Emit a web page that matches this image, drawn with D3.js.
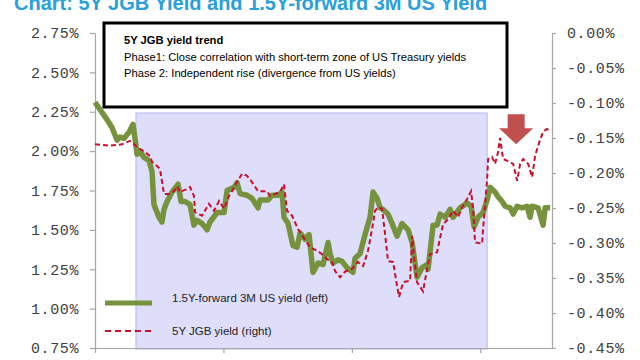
<!DOCTYPE html>
<html><head><meta charset="utf-8">
<script src="https://cdn.jsdelivr.net/npm/d3@7"></script>
<style>body{margin:0;background:#fff}svg{display:block}</style>
</head><body><svg id="c" width="640" height="360"></svg>
<script>
// ---- data (time index in months, values in %) ----
const usMonths = [0,1.12,1.59,2.06,2.34,2.71,3.18,3.55,3.74,3.93,4.21,4.58,5.05,5.33,5.51,5.98,6.26,6.45,6.73,7.2,7.76,8.04,8.41,8.88,9.25,9.53,10,10.47,10.75,11.4,12.06,12.34,12.99,13.27,13.55,14.21,14.67,15.23,15.42,16.17,16.54,17.1,17.48,17.66,18.04,18.5,18.88,19.16,19.63,20,20.37,20.84,21.31,21.78,21.96,22.24,22.71,23.08,23.55,24.11,24.3,24.77,25.23,25.7,25.98,26.36,26.64,26.92,27.38,27.76,28.22,28.69,29.25,29.63,30.09,30.56,31.03,31.12,31.59,31.96,32.24,32.71,33.18,33.46,34.11,34.77,35.14,35.42,35.79,36.26,36.64,36.92,37.38,37.66,38.04,38.32,38.79,39.07,39.44,39.91,40.37,40.65,40.84,41.4,41.87,42.06,42.52];
const usYield = [2.31,2.2,2.15,2.07,2.09,2.08,2.12,2.17,2.08,1.98,2.0,1.96,1.94,1.87,1.66,1.58,1.55,1.63,1.68,1.74,1.79,1.68,1.68,1.66,1.53,1.56,1.54,1.5,1.55,1.61,1.61,1.75,1.77,1.8,1.73,1.72,1.7,1.64,1.69,1.69,1.72,1.72,1.74,1.58,1.54,1.4,1.39,1.48,1.44,1.47,1.23,1.29,1.28,1.42,1.35,1.29,1.31,1.3,1.26,1.23,1.32,1.35,1.47,1.58,1.74,1.7,1.64,1.63,1.6,1.54,1.46,1.54,1.5,1.42,1.2,1.26,1.28,1.25,1.53,1.53,1.6,1.58,1.63,1.58,1.64,1.67,1.65,1.52,1.58,1.61,1.69,1.77,1.74,1.71,1.68,1.65,1.64,1.6,1.65,1.64,1.65,1.58,1.65,1.64,1.53,1.64,1.64];
const jgbMonths = [0,1.31,2.52,3.27,3.93,4.67,5.14,5.33,5.79,6.07,6.45,6.92,7.38,7.66,7.94,8.6,8.88,9.25,9.35,10,10.65,11.12,11.59,12.06,12.52,12.8,13.27,13.74,14.21,14.67,15.23,16.07,16.36,16.82,17.29,17.66,17.94,18.41,18.97,19.44,20.09,20.75,21.21,21.68,22.15,22.43,22.9,23.36,24.02,24.58,25.05,25.51,25.89,26.17,26.45,26.82,27.1,27.38,27.85,28.22,28.41,28.79,29.44,29.63,29.81,30.09,30.65,31.03,31.31,31.96,32.52,32.99,33.46,33.93,34.3,34.77,35.14,35.33,35.51,36.17,36.26,36.64,36.73,37.1,37.38,37.66,37.85,38.13,38.6,39.07,39.44,39.72,40,40.47,40.84,41.12,41.4,41.87,42.24,42.52];
const jgbYield = [-0.159,-0.161,-0.159,-0.154,-0.163,-0.17,-0.176,-0.184,-0.19,-0.194,-0.23,-0.23,-0.226,-0.219,-0.227,-0.223,-0.22,-0.233,-0.256,-0.261,-0.244,-0.254,-0.24,-0.251,-0.233,-0.226,-0.213,-0.201,-0.204,-0.213,-0.226,-0.226,-0.233,-0.23,-0.227,-0.216,-0.254,-0.261,-0.28,-0.291,-0.306,-0.311,-0.316,-0.323,-0.327,-0.34,-0.349,-0.341,-0.337,-0.327,-0.333,-0.311,-0.28,-0.254,-0.249,-0.251,-0.287,-0.326,-0.327,-0.361,-0.377,-0.356,-0.354,-0.29,-0.32,-0.356,-0.369,-0.337,-0.316,-0.313,-0.273,-0.266,-0.254,-0.263,-0.249,-0.237,-0.226,-0.251,-0.299,-0.301,-0.28,-0.209,-0.18,-0.177,-0.187,-0.17,-0.15,-0.18,-0.183,-0.187,-0.211,-0.187,-0.18,-0.187,-0.206,-0.176,-0.161,-0.141,-0.137,-0.14];
const leftTicks = [0.75,1.0,1.25,1.5,1.75,2.0,2.25,2.5,2.75];
const rightTicks = [0,-0.05,-0.1,-0.15,-0.2,-0.25,-0.3,-0.35,-0.4,-0.45];
const xTicks = [0,12,24,36];
const phase1 = [3.83, 36.64];       // shaded period (months)
const phase1Top = 2.242;            // top of shaded band (left axis %)
const arrowAt = {m: 39.35, top: -0.116, tip: -0.159}; // right axis %
const title = "Chart: 5Y JGB Yield and 1.5Y-forward 3M US Yield";
const boxLines = ["5Y JGB yield trend","Phase1: Close correlation with short-term zone of US Treasury yields","Phase 2: Independent rise (divergence from US yields)"];
const legendLabels = ["1.5Y-forward 3M US yield (left)","5Y JGB yield (right)"];

// ---- scales ----
const svg = d3.select("#c");
const x = d3.scaleLinear().domain([0,42.7]).range([95,552]);
const yL = d3.scaleLinear().domain([0.75,2.75]).range([348,33]);
const yR = d3.scaleLinear().domain([-0.45,0]).range([348,33]);
const green = "#76923c", red = "#c8102e", axisCol = "#a6a6a6";

// title (clipped at top, as in the source image)
svg.append("text").attr("x",14).attr("y",10).attr("font-family","Liberation Sans, Arial, sans-serif")
  .attr("font-weight","bold").attr("font-size",20).attr("fill","#29a0da").text(title);

// shaded phase band
svg.append("rect").attr("x",x(phase1[0])).attr("y",yL(phase1Top))
  .attr("width",x(phase1[1])-x(phase1[0])).attr("height",yL(0.75)-yL(phase1Top)+1)
  .attr("fill","#dedefa").attr("stroke","#b4b4f0").attr("stroke-width",1);

// axes
function styleAxis(g){
  g.selectAll(".domain").attr("stroke",axisCol).attr("stroke-width",1.2);
  g.selectAll(".tick line").attr("stroke",axisCol).attr("stroke-width",1.2);
  g.selectAll(".tick text").attr("fill","#404040").attr("font-family","Liberation Mono, DejaVu Sans Mono, monospace")
   .attr("font-size",15).attr("letter-spacing","0.6px");
}
svg.append("g").attr("transform","translate(95,0)")
  .call(d3.axisLeft(yL).tickValues(leftTicks).tickSize(5).tickSizeOuter(0).tickPadding(11).tickFormat(d=>d.toFixed(2)+"%"))
  .call(styleAxis);
svg.append("g").attr("transform","translate(552,0)")
  .call(d3.axisRight(yR).tickValues(rightTicks).tickSize(4).tickSizeOuter(0).tickPadding(11).tickFormat(d=>(d===0?"0.00":"-"+Math.abs(d).toFixed(2))+"%"))
  .call(styleAxis);
svg.append("g").attr("transform","translate(0,"+yL(0.75)+")")
  .call(d3.axisBottom(x).tickValues(xTicks).tickSize(5).tickSizeOuter(0).tickFormat(""))
  .call(styleAxis);

// lines
const lineUS = d3.line().x((d,i)=>x(usMonths[i])).y(d=>yL(d));
const lineJ = d3.line().x((d,i)=>x(jgbMonths[i])).y(d=>yR(d));
svg.append("path").datum(usYield).attr("d",lineUS).attr("fill","none").attr("stroke",green)
  .attr("stroke-width",5.5).attr("stroke-linejoin","round");
svg.append("path").datum(jgbYield).attr("d",lineJ).attr("fill","none").attr("stroke",red)
  .attr("stroke-width",2).attr("stroke-dasharray","5,3");

// annotation box
const box = svg.append("g");
box.append("rect").attr("x",104).attr("y",23).attr("width",403).attr("height",84)
  .attr("fill","#fff").attr("stroke","#000").attr("stroke-width",3);
boxLines.forEach((t,i)=>{
  box.append("text").attr("x",124).attr("y",44+i*16.5).attr("font-family","Liberation Sans, Arial, sans-serif")
    .attr("font-size",11.2).attr("font-weight",i===0?"bold":"normal").attr("fill","#000").text(t);
});

// red arrow
const ax = x(arrowAt.m), at = yR(arrowAt.top), tip = yR(arrowAt.tip);
const hb = at + (tip-at)*0.47;
svg.append("path").attr("d",`M${ax-8.5},${at}L${ax+8.5},${at}L${ax+8.5},${hb}L${ax+17},${hb}L${ax},${tip}L${ax-17},${hb}L${ax-8.5},${hb}Z`)
  .attr("fill","#c0504d");

// legend
const lg = svg.append("g");
lg.append("line").attr("x1",105).attr("x2",152).attr("y1",303).attr("y2",303).attr("stroke",green).attr("stroke-width",5);
lg.append("line").attr("x1",105).attr("x2",152).attr("y1",331).attr("y2",331).attr("stroke",red).attr("stroke-width",2).attr("stroke-dasharray","6,4");
legendLabels.forEach((t,i)=>{
  lg.append("text").attr("x",172).attr("y",i===0?302:335).attr("font-family","Liberation Sans, Arial, sans-serif")
    .attr("font-size",11.5).attr("fill","#222").text(t);
});
</script></body></html>
